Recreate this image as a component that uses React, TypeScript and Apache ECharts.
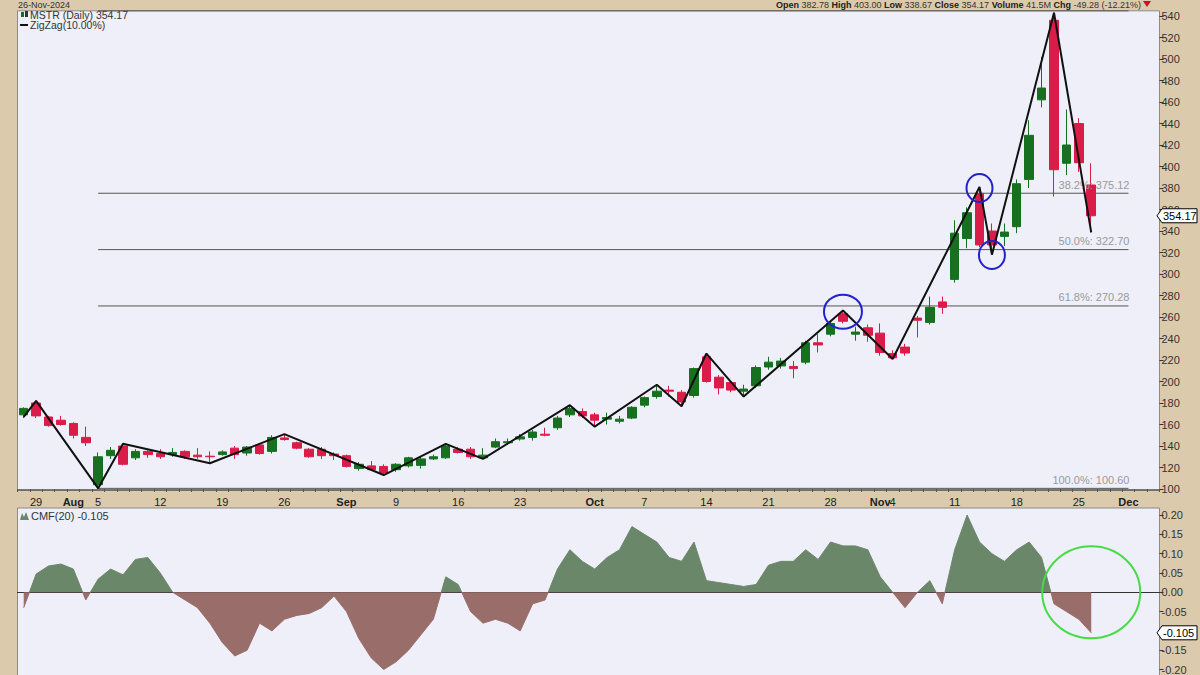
import React, { useEffect, useRef } from "react";
import * as echarts from "echarts";

// ---------- DATA ----------
const tradingMonths = [
  { label: "Jul", days: [26, 29, 30, 31] },
  { label: "Aug", days: [1, 2, 5, 6, 7, 8, 9, 12, 13, 14, 15, 16, 19, 20, 21, 22, 23, 26, 27, 28, 29, 30] },
  { label: "Sep", days: [3, 4, 5, 6, 9, 10, 11, 12, 13, 16, 17, 18, 19, 20, 23, 24, 25, 26, 27, 30] },
  { label: "Oct", days: [1, 2, 3, 4, 7, 8, 9, 10, 11, 14, 15, 16, 17, 18, 21, 22, 23, 24, 25, 28, 29, 30, 31] },
  { label: "Nov", days: [1, 4, 5, 6, 7, 8, 11, 12, 13, 14, 15, 18, 19, 20, 21, 22, 25, 26, 27, 29] },
  { label: "Dec", days: [2, 3, 4] },
];

// date labels shown on the x axis (category -> text); month names are bold
const tickLabels: [string, string][] = [
  ["Jul 29", "29"], ["Aug 1", "Aug"], ["Aug 5", "5"], ["Aug 12", "12"], ["Aug 19", "19"], ["Aug 26", "26"],
  ["Sep 3", "Sep"], ["Sep 9", "9"], ["Sep 16", "16"], ["Sep 23", "23"], ["Oct 1", "Oct"], ["Oct 7", "7"],
  ["Oct 14", "14"], ["Oct 21", "21"], ["Oct 28", "28"], ["Nov 1", "Nov"], ["Nov 4", "4"], ["Nov 11", "11"],
  ["Nov 18", "18"], ["Nov 25", "25"], ["Dec 2", "Dec"],
];
const monthNames = ["Aug", "Sep", "Oct", "Nov", "Dec"];

const opens = [169, 180, 167, 164, 161, 148, 104, 131, 140, 129, 135, 133, 132, 135, 131.5, 130.5, 132, 138, 133.5, 141, 135, 147.5, 143, 137, 137, 132.5, 131, 119, 121.5, 121, 118, 121.5, 122, 128, 129, 137, 137, 129, 139, 143, 146.5, 148, 151, 157, 169, 172, 169, 165, 163, 166, 178, 186, 192, 190, 187, 223, 204, 199, 191, 196, 213.5, 214.5, 214, 218, 236, 244, 263, 244, 250, 245, 226, 232, 259, 255, 274, 295, 333, 375, 340, 335, 344, 388, 462, 536, 403, 440, 382.78];
const closes = [175, 168, 159, 160, 150, 143, 130, 136, 123, 135, 132, 130, 134, 130, 130, 130, 134.5, 132, 139, 133, 148, 146, 138, 130, 131, 131, 121, 123, 118, 115, 123, 129, 128, 130, 140, 134, 130, 131.5, 144, 144, 148.5, 153, 150, 166, 175, 168, 164, 166.5, 165, 176, 185, 191, 191, 181, 212, 200, 194, 192, 193, 213, 218, 219, 212, 236, 234, 254, 256, 246, 243, 227, 222, 226.5, 257, 269, 269, 338, 357, 327, 327, 339, 384, 429, 473, 397, 420, 403.5, 354.17];
const lows = [166, 166, 158, 159, 147, 140, 100.6, 128, 122, 127, 129, 128, 130, 128, 128, 124, 131, 128, 131, 132, 133, 145, 137, 129, 128, 127, 120, 117, 117, 113, 116, 120, 119, 127, 128, 133, 128, 128, 138, 141, 145, 145, 149, 155, 167, 166, 158, 160, 161, 165, 176, 184, 186, 177, 185, 199, 188, 190, 186, 194, 211, 212, 203, 216, 227, 242, 254, 238, 237, 224, 221, 224, 241, 253, 263, 292, 324, 325, 318, 326, 338, 380, 455, 372, 392, 395, 338.67];
const highs = [176, 182, 168, 168, 162, 158, 134, 139, 142, 137, 136, 137, 138, 136, 138, 135, 136, 140, 140, 142, 150, 151, 144, 138, 139, 134, 132, 125, 126, 123, 124, 130, 130, 132, 142, 139, 139, 138, 147, 147, 151, 155, 157, 168, 178, 175, 171, 171, 168, 177, 186, 197, 196, 192, 213, 226, 206, 200, 197, 215, 223, 222, 219, 238, 244, 256, 266, 251, 253, 254, 229, 235, 261, 279, 279, 350, 362, 381, 347, 347, 388, 443, 502, 543, 453, 445, 403];

// ZigZag(10%) pivots: [category index, price]
const zigzagPivots: [number, number][] = [
  [0, 167], [1, 182], [6, 100.6], [8, 142], [15, 124], [21, 151], [29, 113], [34, 142], [37, 128],
  [44, 178], [46, 158], [51, 197], [53, 177], [55, 226], [58, 186], [66, 266], [70, 221], [77, 381],
  [78, 318], [83, 543], [86, 338.67],
];

// Chaikin Money Flow (20)
const cmf = [-0.04, 0.047, 0.068, 0.073, 0.06, -0.02, 0.034, 0.06, 0.045, 0.085, 0.09, 0.05, 0.0, -0.02, -0.04, -0.08, -0.13, -0.165, -0.15, -0.08, -0.1, -0.07, -0.06, -0.055, -0.04, -0.01, -0.05, -0.12, -0.17, -0.2, -0.18, -0.15, -0.11, -0.07, 0.04, 0.02, -0.05, -0.08, -0.07, -0.08, -0.1, -0.03, -0.02, 0.06, 0.11, 0.08, 0.06, 0.09, 0.11, 0.17, 0.15, 0.13, 0.09, 0.08, 0.13, 0.03, 0.025, 0.02, 0.015, 0.02, 0.07, 0.08, 0.08, 0.11, 0.085, 0.13, 0.12, 0.12, 0.11, 0.04, 0.0, -0.04, 0.0, 0.03, -0.03, 0.11, 0.2, 0.13, 0.1, 0.08, 0.11, 0.13, 0.09, -0.03, -0.05, -0.07, -0.105];

// Fibonacci retracement (from Aug 5 low to Nov 21 high)
const fibLow = 100.6;
const fibHigh = 544.8;
const fibRatios = [0, 0.382, 0.5, 0.618, 1];
const fibStartIdx = 6; // Aug 5
const fibEndIdx = 89; // Dec 2

const header = { date: "26-Nov-2024", open: "382.78", high: "403.00", low: "338.67", close: "354.17", volume: "41.5M", chg: "-49.28 (-12.21%)" };
const lastPrice = 354.17;
const lastCmf = -0.105;

// ---------- STYLE ----------
const FONT = 'Arial, "Liberation Sans", sans-serif';
const TAN = "#DCCAAC";
const PANEL = "#EEEFF8";
const UP = "#16701F";
const DOWN = "#DA1C48";
const CMF_POS = "#6A8769";
const CMF_NEG = "#996D6A";

export default function App() {
  const ref = useRef<HTMLDivElement>(null);
  useEffect(() => {
    if (!ref.current) return;
    const chart = echarts.init(ref.current, undefined, { renderer: "svg" });

    const categories: string[] = [];
    tradingMonths.forEach((m) => m.days.forEach((d) => categories.push(`${m.label} ${d}`)));
    const labelMap: Record<string, string> = {};
    tickLabels.forEach(([c, t]) => (labelMap[c] = t));

    const candleData = opens.map((o, i) => [o, closes[i], lows[i], highs[i]]);
    const zigData: (number | null)[] = categories.map(() => null);
    zigzagPivots.forEach(([i, v]) => (zigData[i] = v));

    const fibLevels = fibRatios.map((r) => ({ r, lvl: +(fibHigh - r * (fibHigh - fibLow)).toFixed(2) }));
    const fibSeries = fibLevels.map(({ lvl }) => ({
      type: "line", xAxisIndex: 0, yAxisIndex: 0, silent: true,
      data: [[fibStartIdx, lvl], [fibEndIdx, lvl]],
      showSymbol: false, symbol: "none", clip: false,
      lineStyle: { color: "#555", width: 1 }, z: 1,
    }));

    const option: any = {
      animation: false,
      backgroundColor: TAN,
      textStyle: { fontFamily: FONT },
      grid: [
        { left: 17.5, top: 16, width: 1142, height: 473, show: false },
        { left: 17.5, top: 515, width: 1142, height: 155, show: false },
      ],
      xAxis: [
        {
          type: "category", gridIndex: 0, data: categories, boundaryGap: true,
          axisLine: { show: false },
          axisTick: { show: true, interval: 0, length: 3, lineStyle: { color: "#555" } },
          axisLabel: {
            interval: 0, margin: 7, fontSize: 11, color: "#222", fontFamily: FONT,
            formatter: (v: string) => {
              const t = labelMap[v];
              if (!t) return "";
              return monthNames.includes(t) ? `{b|${t}}` : t;
            },
            rich: { b: { fontWeight: "bold", fontSize: 11, color: "#222", fontFamily: FONT } },
          },
          splitLine: { show: false },
        },
        {
          type: "category", gridIndex: 1, data: categories, boundaryGap: true,
          axisLine: { show: true, onZero: true, lineStyle: { color: "#333", width: 1 } },
          axisTick: { show: false }, axisLabel: { show: false }, splitLine: { show: false },
        },
      ],
      yAxis: [
        {
          type: "value", gridIndex: 0, position: "right", min: 100, max: 540, interval: 20,
          axisLine: { show: false },
          axisTick: { show: true, length: 4, lineStyle: { color: "#333" } },
          axisLabel: { fontSize: 11, color: "#333", margin: 2, fontFamily: FONT },
          splitLine: { show: false },
        },
        {
          type: "value", gridIndex: 1, position: "right", min: -0.2, max: 0.2, interval: 0.05,
          axisLine: { show: false },
          axisTick: { show: true, length: 4, lineStyle: { color: "#333" } },
          axisLabel: {
            fontSize: 11, color: "#333", margin: 2, fontFamily: FONT,
            formatter: (v: number) => (Math.abs(v) < 1e-9 ? "0.00" : v.toFixed(2)),
          },
          splitLine: { show: false },
        },
      ],
      visualMap: {
        type: "piecewise", show: false, seriesIndex: 2, dimension: 1,
        pieces: [{ gt: 0, lte: 1, color: CMF_POS }, { gt: -1, lte: 0, color: CMF_NEG }],
      },
      series: [
        {
          type: "candlestick", xAxisIndex: 0, yAxisIndex: 0, data: candleData, barWidth: 9, clip: false, z: 3,
          itemStyle: { color: UP, color0: DOWN, borderColor: UP, borderColor0: DOWN, borderWidth: 1 },
        },
        {
          type: "line", xAxisIndex: 0, yAxisIndex: 0, data: zigData, connectNulls: true, showSymbol: false,
          symbol: "none", clip: false, lineStyle: { color: "#111", width: 2 }, z: 5,
        },
        {
          type: "line", xAxisIndex: 1, yAxisIndex: 1, data: cmf, showSymbol: false, symbol: "none",
          lineStyle: { width: 1 }, areaStyle: { opacity: 1 },
        },
        ...fibSeries,
      ],
    };
    chart.setOption(option);

    const px = (grid: number, cat: number, v: number) => chart.convertToPixel({ gridIndex: grid }, [cat, v]) as number[];
    const lastY = px(0, 86, lastPrice)[1];
    const cmfY = px(1, 86, lastCmf)[1];
    const c1 = px(0, 65.6, 265);
    const c2 = px(0, 77, 380);
    const c3 = px(0, 78, 317.7);
    const c4 = px(1, 86, 0);

    const fibLabels = fibLevels
      .filter(({ r }) => r !== 0)
      .map(({ r, lvl }) => {
        const p = px(0, fibEndIdx, lvl);
        return {
          type: "text", x: p[0] + 1, y: p[1] - 3,
          style: { text: `${(r * 100).toFixed(1)}%: ${lvl.toFixed(2)}`, fill: "#9a9a9a", font: `11px ${FONT}`, textAlign: "right", textVerticalAlign: "bottom" },
          z: 4,
        };
      });

    const valueBox = (y: number, text: string) => [
      {
        type: "polygon", z: 100, zlevel: 1,
        shape: { points: [[1157, y], [1162, y - 7], [1197, y - 7], [1197, y + 7], [1162, y + 7]] },
        style: { fill: "#fff", stroke: "#000", lineWidth: 1 },
      },
      {
        type: "text", z: 101, zlevel: 1, x: 1163, y,
        style: { text, fill: "#000", font: `11px ${FONT}`, textVerticalAlign: "middle" },
      },
    ];

    const graphics: any[] = [
      // panel backgrounds
      { type: "rect", z: -10, shape: { x: 17.5, y: 10.8, width: 1142, height: 479.2 }, style: { fill: PANEL, stroke: "#8a8a8a", lineWidth: 1 } },
      { type: "rect", z: -10, shape: { x: 17.5, y: 508, width: 1142, height: 170 }, style: { fill: PANEL, stroke: "#8a8a8a", lineWidth: 1 } },
      { type: "line", z: -9, shape: { x1: 17.5, y1: 490, x2: 1159.5, y2: 490 }, style: { stroke: "#333", lineWidth: 1 } },
      { type: "text", x: 18, y: 0.5, style: { text: header.date, fill: "#333", font: `9px ${FONT}`, textVerticalAlign: "top" } },
      {
        type: "text", x: 1141, y: 0.5,
        style: {
          text: `{b|Open} ${header.open} {b|High} ${header.high} {b|Low} ${header.low} {b|Close} ${header.close} {b|Volume} ${header.volume} {b|Chg} ${header.chg}`,
          fill: "#333", fontSize: 9, fontFamily: FONT, textAlign: "right", textVerticalAlign: "top",
          rich: { b: { fontWeight: "bold", fontSize: 9, fontFamily: FONT, fill: "#222" } },
        },
      },
      { type: "polygon", shape: { points: [[1143, 1], [1151, 1], [1147, 7]] }, style: { fill: "#CC1122" } },
      // main legend
      { type: "rect", shape: { x: 21, y: 12, width: 3, height: 5 }, style: { fill: UP } },
      { type: "rect", shape: { x: 25, y: 11, width: 3, height: 6 }, style: { fill: "#333" } },
      { type: "text", x: 30, y: 15, style: { text: "MSTR (Daily) 354.17", fill: "#333", font: `10.5px ${FONT}`, textVerticalAlign: "middle" } },
      { type: "line", shape: { x1: 20, y1: 25, x2: 28, y2: 25 }, style: { stroke: "#111", lineWidth: 2 } },
      { type: "text", x: 30, y: 25, style: { text: "ZigZag(10.00%)", fill: "#333", font: `10.5px ${FONT}`, textVerticalAlign: "middle" } },
      // cmf legend
      { type: "polygon", shape: { points: [[20, 520], [22, 513], [24, 517], [26, 512], [29, 520]] }, style: { fill: CMF_POS } },
      { type: "text", x: 31, y: 516, style: { text: "CMF(20) -0.105", fill: "#333", font: `11px ${FONT}`, textVerticalAlign: "middle" } },
      ...fibLabels,
      // annotation circles
      { type: "ellipse", z: 10, shape: { cx: c1[0], cy: c1[1], rx: 19, ry: 17 }, style: { fill: "none", stroke: "#2222CC", lineWidth: 2 } },
      { type: "ellipse", z: 10, shape: { cx: c2[0], cy: c2[1], rx: 13, ry: 14 }, style: { fill: "none", stroke: "#2222CC", lineWidth: 2 } },
      { type: "ellipse", z: 10, shape: { cx: c3[0], cy: c3[1], rx: 13, ry: 14 }, style: { fill: "none", stroke: "#2222CC", lineWidth: 2 } },
      { type: "ellipse", z: 10, shape: { cx: c4[0], cy: c4[1], rx: 49, ry: 46 }, style: { fill: "none", stroke: "#44DD44", lineWidth: 2 } },
      ...valueBox(lastY, "354.17"),
      ...valueBox(cmfY, "-0.105"),
    ];
    chart.setOption({ graphic: graphics });

    return () => chart.dispose();
  }, []);
  return <div ref={ref} style={{ position: "fixed", left: 0, top: 0, width: 1200, height: 675 }} />;
}
